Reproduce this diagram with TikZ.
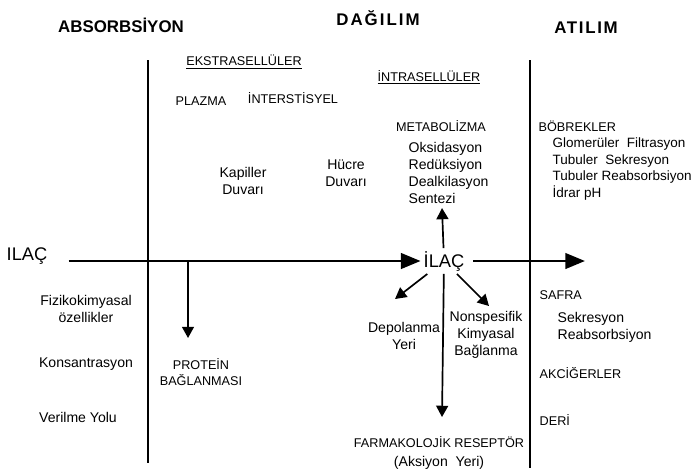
\documentclass[tikz,border=0pt]{standalone}
\usepackage{fontspec}
\setmainfont{Liberation Sans}
\usetikzlibrary{arrows.meta}

\begin{document}
\begin{tikzpicture}[x=0.025cm,y=-0.025cm,
 phase/.style={font=\fontsize{12}{14}\selectfont\bfseries,inner sep=1pt},
 capl/.style={font=\fontsize{9}{12}\selectfont,inner sep=1pt,align=center},
 lab/.style={font=\fontsize{10}{12}\selectfont,inner sep=1pt,align=center},
 drug/.style={font=\fontsize{13}{15}\selectfont,inner sep=2pt},
 divider/.style={line width=0.9pt},
 flow/.style={-{Triangle[length=14pt,width=11pt]},line width=2pt},
 link/.style={-{Triangle[length=8pt,width=8.5pt]},line width=1.2pt}]
\useasboundingbox (0,0) rectangle (694,468);
\node[phase] (absorb) at (121,25) {ABSORBSİYON};
\node[phase] (dagilim) at (378,18) {\addfontfeatures{LetterSpace=12}DAĞILIM};
\node[phase] (atilim) at (586,28) {\addfontfeatures{LetterSpace=10}ATILIM};
\node[capl] (ekstra) at (244,62) {\underline{EKSTRASELLÜLER}};
\node[capl] (intra) at (429,77) {\underline{İNTRASELLÜLER}};
\node[capl] (plazma) at (201,101) {PLAZMA};
\node[capl] (inter) at (293,98) {İNTERSTİSYEL};
\node[capl] (metab) at (441,126) {METABOLİZMA};
\node[lab,align=left,anchor=west] (metlist) at (407,173) {Oksidasyon\\Redüksiyon\\Dealkilasyon\\Sentezi};
\node[lab] (kapiller) at (243,181) {Kapiller\\Duvarı};
\node[lab] (hucre) at (346,173) {Hücre\\Duvarı};
\node[capl,anchor=west] (bobrek) at (537,126) {BÖBREKLER};
\node[lab,font=\fontsize{9.6}{12}\selectfont,align=left,anchor=west] (bobreklist) at (551,169) {Glomerüler~~Filtrasyon\\Tubuler~~Sekresyon\\Tubuler Reabsorbsiyon\\İdrar pH};
\node[drug] (ilacL) at (27,256) {ILAÇ};
\node[drug] (ilac) at (444,261) {İLAÇ};
\node[lab] (fizik) at (86,309) {Fizikokimyasal\\özellikler};
\node[lab] (konsan) at (86,364) {Konsantrasyon};
\node[lab] (verilme) at (78,417) {Verilme Yolu};
\node[capl] (protein) at (201,372) {PROTEİN\\BAĞLANMASI};
\node[lab] (depo) at (404,336) {Depolanma\\Yeri};
\node[lab] (nonspes) at (486,335) {Nonspesifik\\Kimyasal\\Bağlanma};
\node[capl,anchor=west] (safra) at (538,295) {SAFRA};
\node[lab,align=left,anchor=west] (safralist) at (556,327) {Sekresyon\\Reabsorbsiyon};
\node[capl,anchor=west] (akciger) at (538,373) {AKCİĞERLER};
\node[capl,anchor=west] (deri) at (538,420) {DERİ};
\node[capl] (farma) at (439,453) {FARMAKOLOJİK RESEPTÖR\\[1pt]\fontsize{10}{12}\selectfont(Aksiyon~~Yeri)};
\coordinate (flowEnd) at (585,261);
\coordinate (pbTop) at (188,261);
\coordinate (pbTip) at (188,338);
\coordinate (metTip) at (442,208);
\coordinate (depoTip) at (395,299);
\coordinate (nonspesTip) at (489,306);
\coordinate (farmaTip) at (442,417);
\draw[divider] (148,60) -- (148,463);
\draw[divider] (530,60) -- (530,468);
\draw[flow,shorten <=13pt] (ilacL.east |- ilac.west) -- (ilac.west);
\draw[flow,shorten <=4pt] (ilac.east) -- (flowEnd);
\draw[link] (pbTop) -- (pbTip);
\draw[link] (ilac) -- (metTip);\draw[link] (ilac) -- (depoTip);
\draw[link] (ilac) -- (nonspesTip);\draw[link] (ilac) -- (farmaTip);
\end{tikzpicture}
\end{document}
